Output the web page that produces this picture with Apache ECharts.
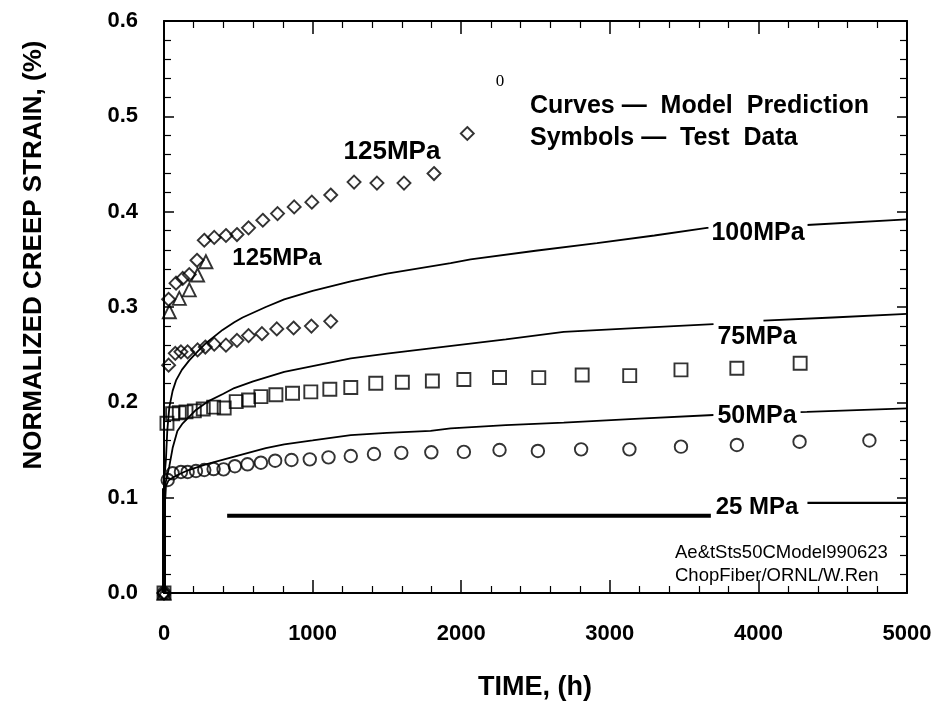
<!DOCTYPE html>
<html>
<head>
<meta charset="utf-8">
<script src="https://cdn.jsdelivr.net/npm/echarts@6/dist/echarts.min.js"></script>
<style>html,body{margin:0;padding:0;background:#fff;}#c{width:938px;height:712px;}</style>
</head>
<body>
<div id="c"></div>
<script>
// ---- axis tick labels ----
const xTickLabels = ['0', '1000', '2000', '3000', '4000', '5000'];
const yTickLabels = ['0.0', '0.1', '0.2', '0.3', '0.4', '0.5', '0.6'];

// ---- model prediction curves [time h, strain %] ----
const curve100 = [[0,0],[0,0.10],[5,0.125],[13,0.14],[22,0.17],[36,0.195],[58,0.212],[81,0.223],[120,0.234],[170,0.244],[230,0.254],[282,0.262],[394,0.276],[473,0.284],[529,0.289],[685,0.300],[809,0.308],[1000,0.317],[1257,0.327],[1500,0.335],[1929,0.346],[2063,0.350],[2500,0.359],[2914,0.367],[3300,0.375],[3654,0.383],[4326,0.386],[5000,0.392]];
const curve75 = [[0,0],[0,0.10],[10,0.115],[36,0.133],[58,0.152],[90,0.170],[126,0.178],[215,0.192],[293,0.2007],[400,0.209],[473,0.215],[600,0.222],[809,0.232],[1000,0.238],[1257,0.246],[1500,0.251],[1794,0.2567],[2300,0.266],[2690,0.274],[3200,0.278],[3698,0.282],'-',[4034,0.2857],[4500,0.289],[5000,0.2927]];
const curve50 = [[0,0],[0,0.09],[9,0.10],[13,0.112],[30,0.118],[58,0.121],[81,0.123],[150,0.128],[282,0.135],[473,0.143],[685,0.152],[809,0.156],[1000,0.160],[1257,0.1657],[1500,0.168],[1794,0.170],[1929,0.1727],[2300,0.176],[2690,0.1787],[3200,0.183],[3698,0.1867],[4326,0.190],[5000,0.1937]];
const curve25a = [[0,0],[0,0.11],'-',[425,0.081],[3680,0.081]];
const curve25b = [[4330,0.0945],[5000,0.0945]];

// ---- test data ----
const test125a = [[0,0],[31,0.308],[81,0.325],[126,0.330],[170,0.334],[222,0.349],[271,0.370],[338,0.373],[417,0.375],[491,0.376],[569,0.383],[665,0.391],[764,0.398],[876,0.405],[995,0.410],[1122,0.4175],[1279,0.431],[1433,0.430],[1615,0.430],[1817,0.440],[2041,0.482]];
const test125b = [[0,0],[36,0.295],[103,0.309],[170,0.318],[226,0.3336],[282,0.3475]];
const test100 = [[0,0],[31,0.239],[76,0.2514],[114,0.253],[159,0.253],[226,0.255],[278,0.258],[338,0.261],[417,0.260],[491,0.265],[569,0.270],[659,0.272],[759,0.277],[872,0.278],[992,0.280],[1122,0.285]];
const test75 = [[0,0],[20,0.178],[58,0.188],[103,0.189],[148,0.190],[204,0.191],[264,0.193],[334,0.195],[405,0.194],[486,0.2007],[569,0.2025],[652,0.206],[753,0.208],[865,0.2095],[988,0.211],[1116,0.2137],[1257,0.2155],[1425,0.220],[1604,0.221],[1806,0.2224],[2018,0.224],[2258,0.226],[2522,0.2259],[2814,0.2287],[3134,0.228],[3479,0.234],[3855,0.2357],[4281,0.241]];
const test50 = [[0,0],[25,0.1185],[58,0.1256],[114,0.127],[159,0.127],[215,0.128],[271,0.129],[334,0.130],[401,0.1297],[477,0.133],[562,0.135],[652,0.1367],[748,0.1388],[858,0.1395],[981,0.1402],[1107,0.1423],[1257,0.1437],[1413,0.1458],[1597,0.147],[1799,0.1476],[2018,0.148],[2258,0.150],[2516,0.149],[2807,0.1507],[3132,0.1507],[3479,0.1535],[3855,0.1553],[4277,0.1587],[4747,0.160]];

const FONT = '"Liberation Sans", Arial, sans-serif';
const chart = echarts.init(document.getElementById('c'), null, {renderer: 'canvas'});

function lineSeries(name, data, w) {
  return {name, type: 'line', data, showSymbol: false, symbol: 'none', connectNulls: false,
    lineStyle: {color: '#000', width: w}, z: 3, animation: false};
}
function scatterSeries(name, data, symbol, size) {
  return {name, type: 'scatter', data, symbol, symbolSize: size,
    itemStyle: {color: 'rgba(0,0,0,0)', borderColor: '#000', borderWidth: 1.9}, z: 4, animation: false};
}
const xAxisCommon = {type: 'value', min: 0, max: 5000, interval: 1000,
  axisLine: {show: true, onZero: false, lineStyle: {color: '#000', width: 2}},
  axisTick: {show: true, inside: true, length: 13, lineStyle: {color: '#000', width: 1.5}},
  minorTick: {show: true, splitNumber: 5, length: 7, lineStyle: {color: '#000', width: 1.2}},
  splitLine: {show: false}, minorSplitLine: {show: false}};
const yAxisCommon = {type: 'value', min: 0, max: 0.6, interval: 0.1,
  axisLine: {show: true, onZero: false, lineStyle: {color: '#000', width: 2}},
  axisTick: {show: true, inside: true, length: 10, lineStyle: {color: '#000', width: 1.5}},
  minorTick: {show: true, splitNumber: 5, length: 7, lineStyle: {color: '#000', width: 1.2}},
  splitLine: {show: false}, minorSplitLine: {show: false}};

const option = {
  backgroundColor: '#fff',
  animation: false,
  grid: {left: 164, right: 31, top: 21, bottom: 119, containLabel: false},
  xAxis: [
    Object.assign({}, xAxisCommon, {position: 'bottom',
      axisLabel: {show: true, margin: 30, color: '#000', fontFamily: FONT, fontWeight: 'bold', fontSize: 22,
        formatter: v => xTickLabels[Math.round(v / 1000)]}}),
    Object.assign({}, xAxisCommon, {position: 'top', axisLabel: {show: false}})
  ],
  yAxis: [
    Object.assign({}, yAxisCommon, {position: 'left',
      axisLabel: {show: true, margin: 26, color: '#000', fontFamily: FONT, fontWeight: 'bold', fontSize: 22,
        formatter: v => yTickLabels[Math.round(v * 10)]}}),
    Object.assign({}, yAxisCommon, {position: 'right', axisLabel: {show: false}})
  ],
  series: [
    lineSeries('100MPa', curve100, 1.8),
    lineSeries('75MPa', curve75, 1.8),
    lineSeries('50MPa', curve50, 1.8),
    lineSeries('25MPa', curve25a, 4),
    lineSeries('25MPa b', curve25b, 2.2),
    scatterSeries('125MPa a', test125a, 'diamond', 13),
    scatterSeries('125MPa b', test125b, 'triangle', 13),
    scatterSeries('100MPa test', test100, 'diamond', 13),
    scatterSeries('75MPa test', test75, 'rect', 13),
    scatterSeries('50MPa test', test50, 'circle', 12.5)
  ],
  graphic: [
    {type: 'text', x: 34, y: 255, rotation: Math.PI / 2, z: 100,
      style: {text: 'NORMALIZED CREEP STRAIN, (%)', font: 'bold 26px ' + FONT, fill: '#000', align: 'center', verticalAlign: 'middle'}},
    {type: 'text', x: 535, y: 688, z: 100,
      style: {text: 'TIME, (h)', font: 'bold 27px ' + FONT, fill: '#000', align: 'center', verticalAlign: 'middle'}},
    {type: 'text', x: 392, y: 152, z: 100,
      style: {text: '125MPa', font: 'bold 26px ' + FONT, fill: '#000', align: 'center', verticalAlign: 'middle'}},
    {type: 'text', x: 277, y: 258, z: 100,
      style: {text: '125MPa', font: 'bold 24px ' + FONT, fill: '#000', align: 'center', verticalAlign: 'middle'}},
    {type: 'text', x: 758, y: 233, z: 100,
      style: {text: '100MPa', font: 'bold 25px ' + FONT, fill: '#000', align: 'center', verticalAlign: 'middle', backgroundColor: '#fff', padding: [0, 3]}},
    {type: 'text', x: 757, y: 337, z: 100,
      style: {text: '75MPa', font: 'bold 25px ' + FONT, fill: '#000', align: 'center', verticalAlign: 'middle'}},
    {type: 'text', x: 757, y: 416, z: 100,
      style: {text: '50MPa', font: 'bold 25px ' + FONT, fill: '#000', align: 'center', verticalAlign: 'middle', backgroundColor: '#fff', padding: [0, 4]}},
    {type: 'text', x: 757, y: 507, z: 100,
      style: {text: '25 MPa', font: 'bold 24px ' + FONT, fill: '#000', align: 'center', verticalAlign: 'middle'}},
    {type: 'text', x: 500, y: 82, z: 100,
      style: {text: '0', font: '17px "Liberation Serif", "DejaVu Serif", serif', fill: '#000', align: 'center', verticalAlign: 'middle'}},
    {type: 'text', x: 530, y: 106, z: 100,
      style: {text: 'Curves —  Model  Prediction', font: 'bold 25px ' + FONT, fill: '#000', align: 'left', verticalAlign: 'middle'}},
    {type: 'text', x: 530, y: 138, z: 100,
      style: {text: 'Symbols —  Test  Data', font: 'bold 25px ' + FONT, fill: '#000', align: 'left', verticalAlign: 'middle'}},
    {type: 'text', x: 675, y: 553, z: 100,
      style: {text: 'Ae&tSts50CModel990623', font: '18.5px ' + FONT, fill: '#000', align: 'left', verticalAlign: 'middle'}},
    {type: 'text', x: 675, y: 576, z: 100,
      style: {text: 'ChopFiber/ORNL/W.Ren', font: '18.5px ' + FONT, fill: '#000', align: 'left', verticalAlign: 'middle'}}
  ]
};
chart.setOption(option);
</script>
</body>
</html>
